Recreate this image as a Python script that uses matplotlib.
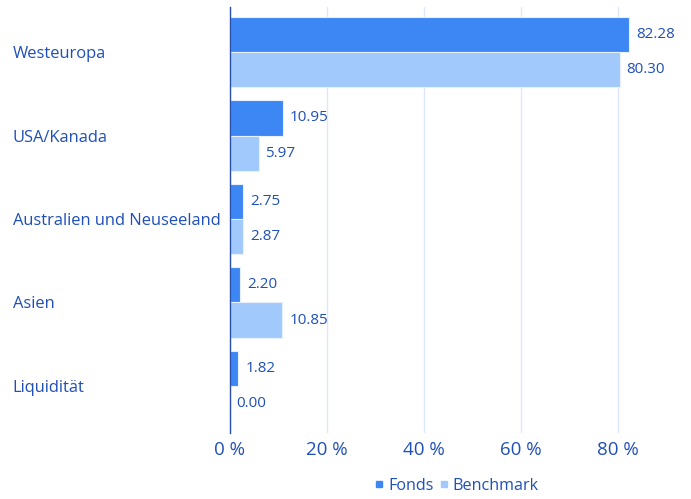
import matplotlib
matplotlib.use("Agg")
import matplotlib.pyplot as plt
from matplotlib.lines import Line2D
import numpy as np

categories = ["Westeuropa", "USA/Kanada", "Australien und Neuseeland", "Asien", "Liquidität"]
fonds = [82.28, 10.95, 2.75, 2.20, 1.82]
benchmark = [80.30, 5.97, 2.87, 10.85, 0.00]
series_names = ["Fonds", "Benchmark"]
xticks = [0, 20, 40, 60, 80]
xtick_labels = ["0 %", "20 %", "40 %", "60 %", "80 %"]

c_fonds = "#3d87f4"
c_bench = "#a2c9fc"
c_text = "#1f4fb8"
c_grid = "#dde9fa"

plt.rcParams['font.family'] = ['Open Sans', 'DejaVu Sans']

fig = plt.figure(figsize=(6.91, 4.99), dpi=100)
ax = fig.add_axes([229.5/691, 1-433/499, (681.5-229.5)/691, (433-7)/499])

y = np.arange(len(categories))
h = 0.42
ax.barh(y - h/2, fonds, height=h, color=c_fonds, edgecolor="#e6f0fe", linewidth=0.8, zorder=3)
ax.barh(y + h/2, benchmark, height=h, color=c_bench, edgecolor="#e6f0fe", linewidth=0.8, zorder=3)

for yi, v in zip(y - h/2, fonds):
    ax.annotate(f"{v:.2f}", (v, yi), xytext=(5, 0), textcoords="offset points",
                va="center", ha="left", fontsize=11, color=c_text)
for yi, v in zip(y + h/2, benchmark):
    ax.annotate(f"{v:.2f}", (v, yi), xytext=(5, 0), textcoords="offset points",
                va="center", ha="left", fontsize=11, color=c_text)

ax.set_xlim(0, 93)
ax.set_ylim(4.563, -0.539)
ax.set_xticks(xticks)
ax.set_xticklabels(xtick_labels, fontsize=13.5, color=c_text)
ax.set_yticks(y)
ax.set_yticklabels(categories, fontsize=11.9, color=c_text, ha="left")
ax.tick_params(axis="y", length=0, pad=156)
ax.tick_params(axis="x", length=0, pad=6)
ax.grid(axis="x", color=c_grid, linewidth=1, zorder=0)
for s in ["top", "right", "bottom"]:
    ax.spines[s].set_visible(False)
ax.spines["left"].set_color("#2a4fa8")
ax.spines["left"].set_linewidth(1)
ax.spines["left"].set_zorder(4)

handles = [Line2D([], [], marker="s", linestyle="none", color=c_fonds, markersize=4),
           Line2D([], [], marker="s", linestyle="none", color=c_bench, markersize=4)]
leg = fig.legend(handles, series_names, loc="center", bbox_to_anchor=(457/691, 1-486/499),
                 ncol=2, frameon=False, fontsize=11.6, handlelength=0.5, handletextpad=0.3,
                 columnspacing=0.4)
for t in leg.get_texts():
    t.set_color(c_text)

fig.savefig("out.png", dpi=100)
